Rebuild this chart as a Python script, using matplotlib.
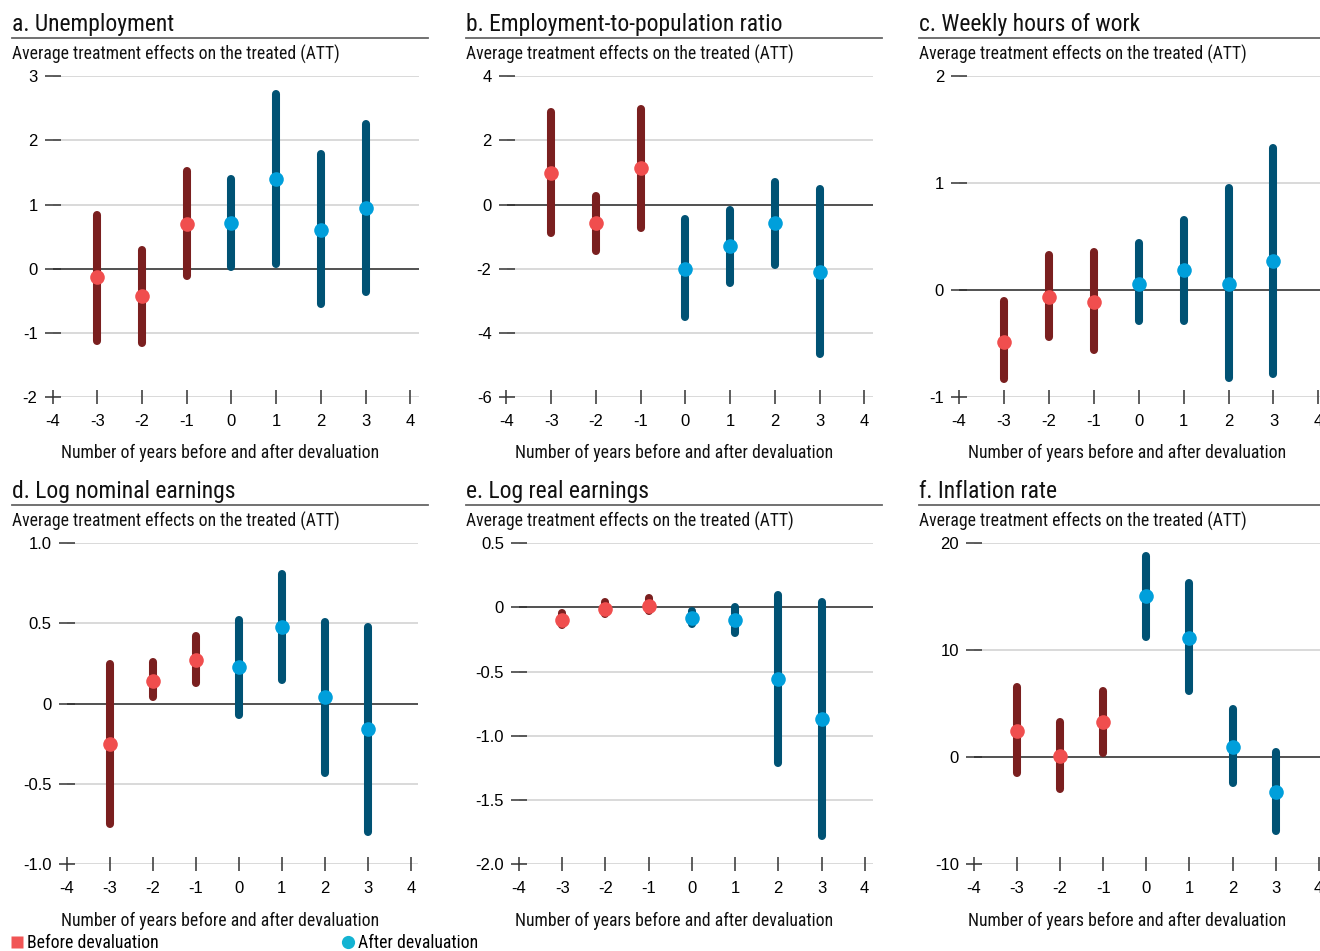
import matplotlib
matplotlib.use("Agg")
import matplotlib.pyplot as plt
from matplotlib.lines import Line2D
from matplotlib import font_manager

# event time (years relative to devaluation)
years = [-3, -2, -1, 0, 1, 2, 3]

# a. Unemployment
unemp_att = [-0.13, -0.43, 0.69, 0.71, 1.39, 0.60, 0.94]
unemp_lo = [-1.12, -1.15, -0.12, 0.03, 0.07, -0.55, -0.36]
unemp_hi = [0.83, 0.29, 1.52, 1.40, 2.72, 1.79, 2.26]

# b. Employment-to-population ratio
emp_att = [0.99, -0.58, 1.13, -2.01, -1.28, -0.58, -2.09]
emp_lo = [-0.88, -1.45, -0.72, -3.49, -2.43, -1.89, -4.66]
emp_hi = [2.89, 0.27, 2.97, -0.45, -0.16, 0.71, 0.48]

# c. Weekly hours of work
hours_att = [-0.48, -0.06, -0.11, 0.06, 0.19, 0.06, 0.27]
hours_lo = [-0.83, -0.44, -0.56, -0.29, -0.29, -0.82, -0.78]
hours_hi = [-0.10, 0.33, 0.36, 0.44, 0.66, 0.95, 1.33]

# d. Log nominal earnings
nominal_att = [-0.25, 0.14, 0.27, 0.23, 0.48, 0.04, -0.16]
nominal_lo = [-0.75, 0.04, 0.13, -0.07, 0.15, -0.43, -0.80]
nominal_hi = [0.25, 0.26, 0.42, 0.52, 0.81, 0.51, 0.48]

# e. Log real earnings
real_att = [-0.10, -0.01, 0.01, -0.08, -0.10, -0.56, -0.87]
real_lo = [-0.14, -0.05, -0.03, -0.13, -0.20, -1.21, -1.78]
real_hi = [-0.04, 0.04, 0.07, -0.03, 0.00, 0.10, 0.04]

# f. Inflation rate
infl_att = [2.47, 0.13, 3.26, 15.07, 11.17, 0.97, -3.29]
infl_lo = [-1.52, -2.96, 0.41, 11.23, 6.18, -2.45, -6.91]
infl_hi = [6.53, 3.26, 6.21, 18.84, 16.26, 4.50, 0.45]

titles = ["a. Unemployment", "b. Employment-to-population ratio", "c. Weekly hours of work",
          "d. Log nominal earnings", "e. Log real earnings", "f. Inflation rate"]

yticks = [
    [-2, -1, 0, 1, 2, 3],
    [-6, -4, -2, 0, 2, 4],
    [-1, 0, 1, 2],
    [-1.0, -0.5, 0, 0.5, 1.0],
    [-2.0, -1.5, -1.0, -0.5, 0, 0.5],
    [-10, 0, 10, 20],
]
ytick_labels = [
    ["-2", "-1", "0", "1", "2", "3"],
    ["-6", "-4", "-2", "0", "2", "4"],
    ["-1", "0", "1", "2"],
    ["-1.0", "-0.5", "0", "0.5", "1.0"],
    ["-2.0", "-1.5", "-1.0", "-0.5", "0", "0.5"],
    ["-10", "0", "10", "20"],
]
xticks = [-4, -3, -2, -1, 0, 1, 2, 3, 4]

series = [
    (unemp_att, unemp_lo, unemp_hi),
    (emp_att, emp_lo, emp_hi),
    (hours_att, hours_lo, hours_hi),
    (nominal_att, nominal_lo, nominal_hi),
    (real_att, real_lo, real_hi),
    (infl_att, infl_lo, infl_hi),
]

BAR_BEFORE = "#7a1f1f"
DOT_BEFORE = "#f04e4e"
BAR_AFTER = "#005274"
DOT_AFTER = "#009fdb"
LEG_BEFORE = "#f15555"
LEG_AFTER = "#14b3d2"

available = {f.name for f in font_manager.fontManager.ttflist}
TEXT_FONT = next((n for n in ["Roboto Condensed", "Liberation Sans Narrow", "Open Sans Condensed"]
                  if n in available), "Roboto")
NUM_FONT = "Liberation Sans"

plt.rcParams["axes.unicode_minus"] = False

W, H = 1320, 951
fig = plt.figure(figsize=(W / 100, H / 100), dpi=100)


def fx(px):
    return px / W


def fy(py):
    return 1 - py / H


panel_left = [12, 466, 919]
panel_width = 416
# pixel position of x = -4 for each panel (depends on y label width)
axis_left = [[52.5, 506.5, 959], [66.5, 519, 974]]
axis_right = [418.5, 872.5, 1326.5]
row_top = [76, 543.3]
row_bottom = [397.3, 864]
row_shift = [0, 467.3]

for i, (att, lo, hi) in enumerate(series):
    r, c = divmod(i, 3)
    left = axis_left[r][c]
    ax = fig.add_axes([fx(left), fy(row_bottom[r]),
                       (axis_right[c] - left) / W, (row_bottom[r] - row_top[r]) / H])
    ymin, ymax = yticks[i][0], yticks[i][-1]

    for yv in yticks[i]:
        if yv == 0:
            ax.axhline(0, color="#222222", lw=1.1, zorder=1)
        else:
            ax.axhline(yv, color="#cfcfcf", lw=1.1, zorder=1)

    pre = [k for k, y in enumerate(years) if y < 0]
    post = [k for k, y in enumerate(years) if y >= 0]
    for idx, bar_c, dot_c in [(pre, BAR_BEFORE, DOT_BEFORE), (post, BAR_AFTER, DOT_AFTER)]:
        xs = [years[k] for k in idx]
        ax.vlines(xs, [lo[k] for k in idx], [hi[k] for k in idx], color=bar_c,
                  lw=5.8, capstyle="round", zorder=3)
        ax.plot(xs, [att[k] for k in idx], "o", ms=10.5, color=dot_c, mec="none", zorder=4)

    ax.set_xlim(-4, 4.18)
    ax.set_ylim(ymin, ymax)
    ax.set_xticks(xticks)
    ax.set_xticklabels([str(x) for x in xticks])
    ax.set_yticks(yticks[i])
    ax.set_yticklabels(ytick_labels[i])
    for s in ax.spines.values():
        s.set_visible(False)
    ax.tick_params(axis="y", direction="inout", length=11.5, width=1.1, color="#333333",
                   labelsize=12, pad=5)
    ax.tick_params(axis="x", direction="inout", length=10, width=1.1, color="#333333",
                   labelsize=12, pad=7)
    for lab in ax.get_xticklabels() + ax.get_yticklabels():
        lab.set_fontfamily(NUM_FONT)
    ax.patch.set_alpha(0)

    # panel header, rule and axis caption
    x0 = panel_left[c]
    dy = row_shift[r]
    fig.text(fx(x0), fy(31 + dy), titles[i], fontsize=17, family=TEXT_FONT,
             va="baseline", ha="left", color="#111111")
    rule_right = min(x0 + panel_width, W)
    fig.add_artist(Line2D([fx(x0), fx(rule_right)], [fy(38 + dy)] * 2, color="#666666", lw=1.3))
    fig.text(fx(x0), fy(59.5 + dy), "Average treatment effects on the treated (ATT)",
             fontsize=12.7, family=TEXT_FONT, va="baseline", ha="left", color="#111111")
    fig.text(fx(x0 + panel_width / 2), fy(458.5 + dy), "Number of years before and after devaluation",
             fontsize=12.8, family=TEXT_FONT, va="baseline", ha="center", color="#111111")

# legend
before_handle = Line2D([], [], marker="s", ls="none", ms=9, color=LEG_BEFORE, mec="none")
after_handle = Line2D([], [], marker="o", ls="none", ms=9.5, color=LEG_AFTER, mec="none")
for handle, label, xpos in [(before_handle, "Before devaluation", 11),
                            (after_handle, "After devaluation", 342)]:
    fig.legend([handle], [label], loc="center left", bbox_to_anchor=(fx(xpos), fy(943)),
               frameon=False, handlelength=0.7, handletextpad=0.2, borderpad=0,
               borderaxespad=0, prop={"family": TEXT_FONT, "size": 12.8})

fig.savefig("out.png", dpi=100)
